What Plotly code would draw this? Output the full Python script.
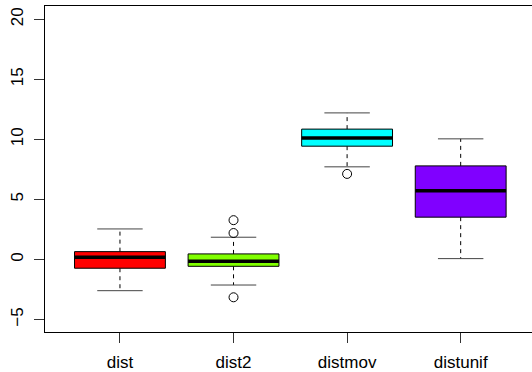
import plotly.graph_objects as go

categories = ["dist", "dist2", "distmov", "distunif"]
colors = ["#FF0000", "#80FF00", "#00FFFF", "#8000FF"]
q1 = [-0.73, -0.57, 9.43, 3.52]
median = [0.18, -0.15, 10.12, 5.71]
q3 = [0.65, 0.46, 10.85, 7.79]
lower_whisker = [-2.6, -2.13, 7.71, 0.07]
upper_whisker = [2.54, 1.85, 12.2, 10.04]
outliers = [[], [3.27, 2.2, -3.15], [7.12], []]

BOX_W = 0.8
STAPLE_W = 0.4

fig = go.Figure()
for i, name in enumerate(categories):
    x = i + 1
    hw = BOX_W / 2
    sw = STAPLE_W / 2
    # whiskers (dashed)
    fig.add_trace(go.Scatter(
        x=[x, x, None, x, x],
        y=[q3[i], upper_whisker[i], None, q1[i], lower_whisker[i]],
        mode="lines", line=dict(color="black", width=1, dash="4px,4px"),
        showlegend=False, hoverinfo="skip"))
    # staples
    fig.add_trace(go.Scatter(
        x=[x - sw, x + sw, None, x - sw, x + sw],
        y=[upper_whisker[i], upper_whisker[i], None, lower_whisker[i], lower_whisker[i]],
        mode="lines", line=dict(color="#444444", width=1),
        showlegend=False, hoverinfo="skip"))
    # box
    fig.add_trace(go.Scatter(
        x=[x - hw, x + hw, x + hw, x - hw, x - hw],
        y=[q1[i], q1[i], q3[i], q3[i], q1[i]],
        mode="lines", fill="toself", fillcolor=colors[i],
        line=dict(color="black", width=1),
        showlegend=False, name=name))
    # median
    fig.add_trace(go.Scatter(
        x=[x - hw, x + hw], y=[median[i], median[i]],
        mode="lines", line=dict(color="black", width=3.5),
        showlegend=False, hoverinfo="skip"))
    # outliers
    if outliers[i]:
        fig.add_trace(go.Scatter(
            x=[x] * len(outliers[i]), y=outliers[i], mode="markers",
            marker=dict(symbol="circle-open", size=9, color="black", line=dict(width=1)),
            showlegend=False))

fig.update_layout(
    width=532, height=372,
    margin=dict(l=45, r=0, t=6, b=40),
    plot_bgcolor="white", paper_bgcolor="white",
    font=dict(family="Liberation Sans, Arial, sans-serif", size=17, color="black"),
    showlegend=False,
)
fig.update_xaxes(
    range=[0.34, 4.628], tickvals=[1, 2, 3, 4], ticktext=categories,
    showgrid=False, zeroline=False, showline=True, linecolor="black", linewidth=1,
    mirror=True, ticks="outside", ticklen=10, tickcolor="#333333",
    ticklabelstandoff=5, automargin=False,
)
fig.update_yaxes(
    range=[-6.04, 21.1], tickvals=[-5, 0, 5, 10, 15, 20],
    ticktext=["\u22125", "0", "5", "10", "15", "20"],
    showgrid=False, zeroline=False, showline=True, linecolor="black", linewidth=1,
    ticks="outside", ticklen=10, tickcolor="#333333", tickangle=-90,
    ticklabelstandoff=4, automargin=False,
)
fig.write_html(
    "out.html",
    config={"displayModeBar": False},
    post_script="document.body.style.margin='0';document.body.style.padding='0';",
)
